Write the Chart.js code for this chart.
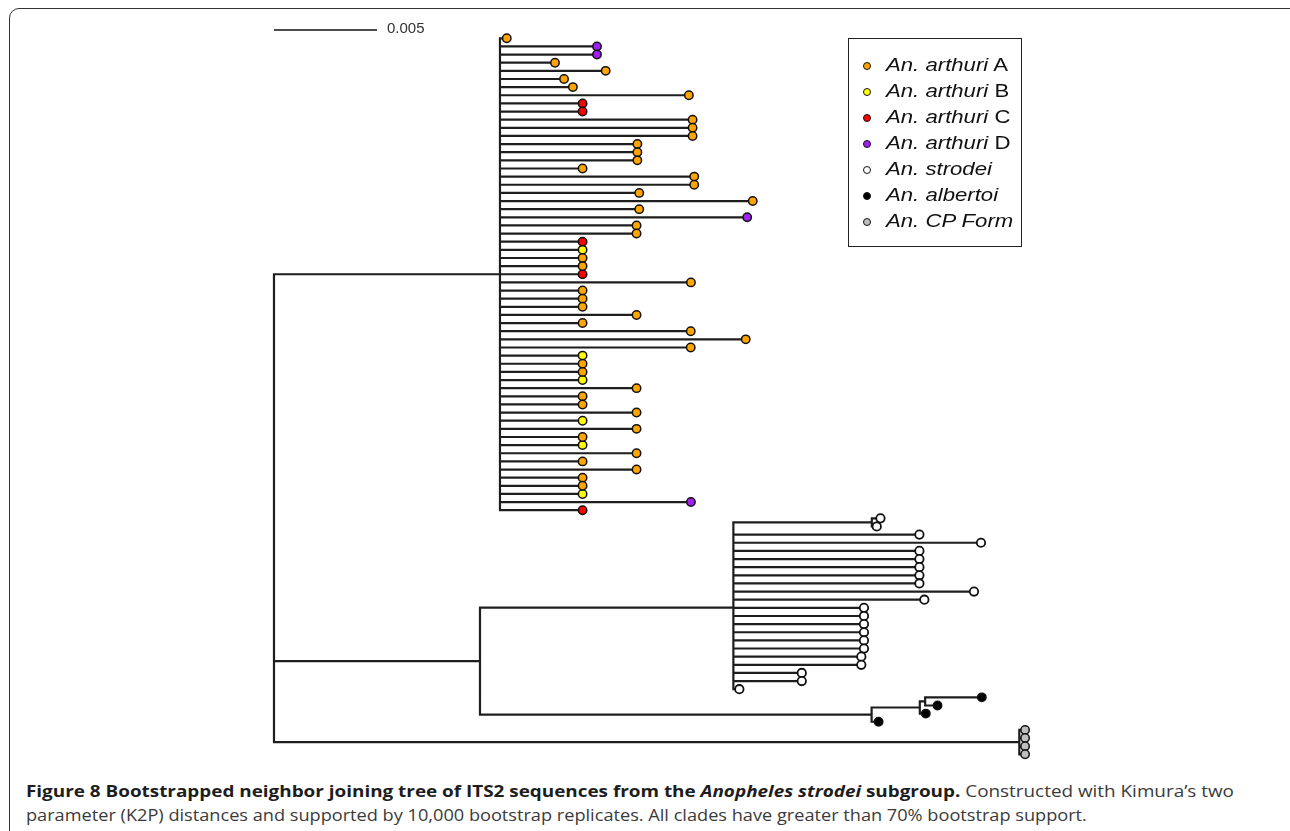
<!DOCTYPE html>
<html>
<head>
<meta charset="utf-8">
<script src="https://cdn.jsdelivr.net/npm/chart.js@4"></script>
<style>
body { margin: 0; background: #fff; }
#page { position: relative; width: 1290px; height: 831px; overflow: hidden; font-family: "Liberation Sans", Arial, sans-serif; }
#frame { position: absolute; left: 9px; top: 8px; width: 1300px; height: 840px; border: 1.5px solid #333; border-radius: 10px; }
#chartBox { position: absolute; left: 0; top: 0; width: 1290px; height: 770px; }
#legend { position: absolute; left: 848px; top: 38px; width: 174px; height: 209px; border: 1.5px solid #222; box-sizing: border-box; }
.item { position: absolute; left: 0; height: 26px; color: #111; white-space: nowrap; }
.dot { position: absolute; left: 14px; top: 10px; width: 6px; height: 6px; border: 1.5px solid #111; border-radius: 50%; }
.lab { position: absolute; left: 37px; top: 1px; font-size: 18.8px; line-height: 24px; transform: scaleX(1.18); transform-origin: left center; }
.cap { position: absolute; left: 26px; font-family: "Open Sans", sans-serif; font-size: 16px; line-height: 24px; color: #3a3a3a; white-space: nowrap; transform-origin: left top; }
#cap1 { top: 779px; transform: scaleX(1.18); }
#cap2 { top: 803px; transform: scaleX(1.135); }
.cap b { color: #1d1d1d; }
</style>
</head>
<body>
<div id="page">
  <div id="frame"></div>
  <div id="chartBox"><canvas id="tree"></canvas></div>
  <div id="legend"></div>
  <div class="cap" id="cap1"><b>Figure 8 Bootstrapped neighbor joining tree of ITS2 sequences from the <i>Anopheles strodei</i> subgroup.</b> Constructed with Kimura’s two</div>
  <div class="cap" id="cap2">parameter (K2P) distances and supported by 10,000 bootstrap replicates. All clades have greater than 70% bootstrap support.</div>
</div>
<script>
// branch lengths (scale bar = 0.005)
const stemArthuri = 0.01097;
const stemMid = 0.0100;
const stemStrodei = 0.0123;
const stemCP = 0.03618;

// An. arthuri clade, top to bottom
const arthuriTips = [0.00033, 0.00471, 0.00471, 0.00267, 0.00513, 0.00311, 0.00354, 0.00917, 0.00401, 0.00401,
  0.00935, 0.00935, 0.00935, 0.00667, 0.00667, 0.00667, 0.00401, 0.00943, 0.00943, 0.00676,
  0.01227, 0.00676, 0.01200, 0.00663, 0.00663, 0.00401, 0.00401, 0.00401, 0.00401, 0.00401,
  0.00927, 0.00401, 0.00401, 0.00401, 0.00663, 0.00401, 0.00926, 0.01193, 0.00926, 0.00401,
  0.00401, 0.00401, 0.00401, 0.00663, 0.00401, 0.00401, 0.00663, 0.00401, 0.00663, 0.00401,
  0.00401, 0.00663, 0.00401, 0.00663, 0.00401, 0.00401, 0.00401, 0.00927, 0.00401];
const arthuriSpecies = ['A', 'D', 'D', 'A', 'A', 'A', 'A', 'A', 'C', 'C',
  'A', 'A', 'A', 'A', 'A', 'A', 'A', 'A', 'A', 'A',
  'A', 'A', 'D', 'A', 'A', 'C', 'B', 'A', 'A', 'C',
  'A', 'A', 'A', 'A', 'A', 'A', 'A', 'A', 'A', 'B',
  'A', 'A', 'B', 'A', 'A', 'A', 'A', 'B', 'A', 'A',
  'B', 'A', 'A', 'A', 'A', 'A', 'B', 'D', 'C'];

// An. strodei clade: a small pair on top, then single tips
const strodeiPairStem = 0.00672;
const strodeiPair = [0.00042, 0.00024];
const strodeiTips = [0.00903, 0.01202, 0.00903, 0.00903, 0.00903, 0.00903, 0.00903, 0.01168, 0.00927, 0.00634,
  0.00634, 0.00634, 0.00634, 0.00634, 0.00634, 0.00621, 0.00621, 0.00332, 0.00332, 0.00029];

// An. albertoi: ((a1,a2),a3),a4
const albertoiStems = [0.01901, 0.00234, 0.00026];
const albertoiTips = [0.00275, 0.0006, 0.00029, 0.00034];

// An. CP Form
const cpTips = [0.00028, 0.00028, 0.00028, 0.00028];

const legendKeys = ['A', 'B', 'C', 'D', 'S', 'AL', 'CP'];
const legendItalic = ['An. arthuri', 'An. arthuri', 'An. arthuri', 'An. arthuri', 'An. strodei', 'An. albertoi', 'An. CP Form'];
const legendPlain = [' A', ' B', ' C', ' D', '', '', ''];
const colors = { A: '#FFA500', B: '#FFFF00', C: '#FF0000', D: '#A020F0', S: '#FFFFFF', AL: '#000000', CP: '#BEBEBE' };

function tip(len, sp) { return { len: len, sp: sp }; }
function clade(len, children) { return { len: len, children: children }; }

const tree = clade(0, [
  clade(stemArthuri, arthuriTips.map((l, i) => tip(l, arthuriSpecies[i]))),
  clade(stemMid, [
    clade(stemStrodei, [clade(strodeiPairStem, strodeiPair.map(l => tip(l, 'S')))].concat(strodeiTips.map(l => tip(l, 'S')))),
    clade(albertoiStems[0], [
      clade(albertoiStems[1], [
        clade(albertoiStems[2], [tip(albertoiTips[0], 'AL'), tip(albertoiTips[1], 'AL')]),
        tip(albertoiTips[2], 'AL')
      ]),
      tip(albertoiTips[3], 'AL')
    ])
  ]),
  clade(stemCP, cpTips.map(l => tip(l, 'CP')))
]);

// tips get y = 1,2,3...; internal nodes sit at the mean of their children
let nextY = 1;
function layout(n, x0) {
  n.x = x0 + n.len;
  if (!n.children) { n.y = nextY++; return; }
  n.children.forEach(c => layout(c, n.x));
  n.y = n.children.reduce((s, c) => s + c.y, 0) / n.children.length;
}
layout(tree, 0);

const segs = [];
const tips = {};
legendKeys.forEach(k => tips[k] = []);
function walk(n, parent) {
  if (parent) {
    segs.push({ x: parent.x, y: n.y }, { x: n.x, y: n.y }, { x: n.x, y: null });
  }
  if (n.children) {
    const ys = n.children.map(c => c.y);
    segs.push({ x: n.x, y: Math.min(...ys) }, { x: n.x, y: Math.max(...ys) }, { x: n.x, y: null });
    n.children.forEach(c => walk(c, n));
  } else {
    tips[n.sp].push({ x: n.x, y: n.y });
  }
}
walk(tree, null);

const datasets = [{
  data: segs, showLine: true, spanGaps: false, pointRadius: 0,
  borderColor: '#1e1e1e', borderWidth: 2.2, borderCapStyle: 'square', order: 2
}];
legendKeys.forEach(k => {
  datasets.push({
    data: tips[k], showLine: false, pointRadius: 4.2, pointHoverRadius: 4.2,
    backgroundColor: colors[k], borderColor: '#111', borderWidth: k === 'S' ? 1.8 : 1.5, order: 1
  });
});

const scaleBar = {
  id: 'scaleBar',
  afterDraw(chart) {
    const ctx = chart.ctx, xs = chart.scales.x, ys = chart.scales.y;
    const y = ys.getPixelForValue(-0.02);
    const x0 = xs.getPixelForValue(0), x1 = xs.getPixelForValue(0.005);
    ctx.save();
    ctx.strokeStyle = '#111';
    ctx.lineWidth = 1.5;
    ctx.beginPath();
    ctx.moveTo(x0, y);
    ctx.lineTo(x1, y);
    ctx.stroke();
    ctx.fillStyle = '#333';
    ctx.font = '15px "Liberation Sans", Arial, sans-serif';
    ctx.textBaseline = 'middle';
    ctx.fillText('0.005', x1 + 10, y - 1);
    ctx.restore();
  }
};

new Chart(document.getElementById('tree'), {
  type: 'scatter',
  data: { datasets: datasets },
  options: {
    responsive: true,
    maintainAspectRatio: false,
    animation: false,
    events: [],
    layout: { padding: 0, autoPadding: false },
    plugins: { legend: { display: false }, tooltip: { enabled: false } },
    scales: {
      x: { type: 'linear', display: false, min: -0.0133, max: 0.04932 },
      y: { type: 'linear', display: false, reverse: true, min: -3.7075, max: 90.93 }
    }
  },
  plugins: [scaleBar]
});

const leg = document.getElementById('legend');
legendKeys.forEach((k, i) => {
  const d = document.createElement('div');
  d.className = 'item';
  d.style.top = (13 + i * 26) + 'px';
  d.innerHTML = '<span class="dot" style="background:' + colors[k] + '"></span>' +
    '<span class="lab"><i>' + legendItalic[i] + '</i>' + legendPlain[i] + '</span>';
  leg.appendChild(d);
});
</script>
</body>
</html>
